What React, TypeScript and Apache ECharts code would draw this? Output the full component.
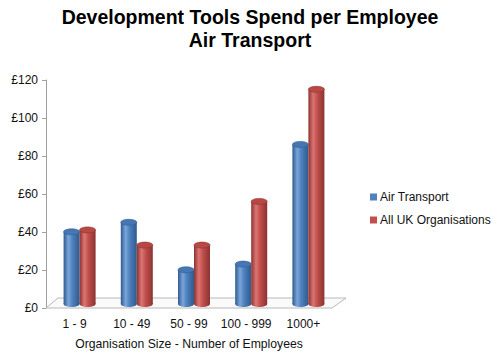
import React, { useEffect, useRef } from "react";
import * as echarts from "echarts";

const categories = ["1 - 9", "10 - 49", "50 - 99", "100 - 999", "1000+"];
const airTransport = [38, 43, 18, 21, 84];
const allUK = [39, 31, 31, 54, 113];
const seriesNames = ["Air Transport", "All UK Organisations"];
const yTicks = [0, 20, 40, 60, 80, 100, 120];

const BAR_W = 16;
const DEPTH_X = 5;
const DEPTH_Y = 4;

const palettes = [
  { base: "#4F81BD", dark: "#2D5A8F", light: "#7AA5DA", top: "#4677B3", topStroke: "#2F5F95" },
  { base: "#C0504D", dark: "#8C3230", light: "#DD7572", top: "#B84845", topStroke: "#8E3431" },
];

function makeCylinder(sIdx: number) {
  return (params: any, api: any) => {
    const idx = api.value(0);
    const val = api.value(1);
    const top = api.coord([idx, val]);
    const base = api.coord([idx, 0]);
    const p = palettes[sIdx];
    const cx = top[0] + (sIdx === 0 ? -BAR_W / 2 : BAR_W / 2) + DEPTH_X;
    const yTop = top[1] - DEPTH_Y;
    const yBase = base[1] - DEPTH_Y;
    const rx = BAR_W / 2;
    const ry = 3;
    const grad = new echarts.graphic.LinearGradient(0, 0, 1, 0, [
      { offset: 0, color: p.dark },
      { offset: 0.3, color: p.light },
      { offset: 0.55, color: p.base },
      { offset: 1, color: p.dark },
    ]);
    return {
      type: "group",
      children: [
        {
          type: "ellipse",
          shape: { cx, cy: yBase, rx, ry },
          style: { fill: grad },
        },
        {
          type: "rect",
          shape: { x: cx - rx, y: yTop, width: BAR_W, height: yBase - yTop },
          style: { fill: grad },
        },
        {
          type: "ellipse",
          shape: { cx, cy: yTop, rx, ry },
          style: { fill: p.top, stroke: p.topStroke, lineWidth: 0.6 },
        },
      ],
    };
  };
}

function renderFloor(params: any, api: any) {
  const cs = params.coordSys;
  const x0 = cs.x;
  const x1 = cs.x + cs.width;
  const yF = cs.y + cs.height;
  const dx = 14;
  const dy = 10;
  return {
    type: "polygon",
    shape: {
      points: [
        [x0, yF],
        [x1, yF],
        [x1 + dx, yF - dy],
        [x0 + dx - 2, yF - dy],
      ],
    },
    style: { fill: "#FAFAFA", stroke: "#B8B8B8", lineWidth: 1 },
    silent: true,
  };
}

export default function App() {
  const ref = useRef<HTMLDivElement>(null);
  useEffect(() => {
    document.body.style.margin = "0";
    const chart = echarts.init(ref.current!, null, { renderer: "svg" });
    chart.setOption({
      animation: false,
      backgroundColor: "#ffffff",
      textStyle: { fontFamily: "Liberation Sans, Arial, sans-serif" },
      title: {
        text: "Development Tools Spend per Employee\nAir Transport",
        left: "center",
        top: 0,
        textStyle: {
          fontSize: 19.5,
          fontWeight: "bold",
          color: "#000000",
          lineHeight: 23,
          fontFamily: "Liberation Sans, Arial, sans-serif",
        },
      },
      legend: {
        orient: "vertical",
        left: 365,
        top: 186,
        icon: "rect",
        itemWidth: 7,
        itemHeight: 7,
        itemGap: 11,
        textStyle: { fontSize: 12, color: "#111111", padding: [0, 0, 0, -2] },
        data: seriesNames,
      },
      grid: { left: 46, top: 80, right: 168, bottom: 55, containLabel: false },
      xAxis: {
        type: "category",
        data: categories,
        name: "Organisation Size - Number of Employees",
        nameLocation: "middle",
        nameGap: 30,
        nameTextStyle: { fontSize: 12.2, color: "#111111" },
        axisLine: { show: false },
        axisTick: { show: false },
        axisLabel: { fontSize: 12, color: "#111111", margin: 10, interval: 0 },
      },
      yAxis: {
        type: "value",
        min: 0,
        max: 120,
        interval: 20,
        axisLine: { show: true, lineStyle: { color: "#A0A0A0" } },
        axisTick: { show: true, length: 4, lineStyle: { color: "#A0A0A0" } },
        splitLine: { show: false },
        axisLabel: {
          fontSize: 12,
          color: "#111111",
          margin: 8,
          formatter: (v: number) => (yTicks.includes(v) ? "£" + v : ""),
        },
      },
      series: [
        {
          type: "custom",
          name: "floor",
          renderItem: renderFloor,
          data: [[0, 0]],
          z: 1,
          silent: true,
        },
        {
          type: "custom",
          name: seriesNames[0],
          renderItem: makeCylinder(0),
          itemStyle: { color: palettes[0].base },
          data: airTransport.map((v, i) => [i, v]),
          encode: { x: 0, y: 1 },
          z: 2,
        },
        {
          type: "custom",
          name: seriesNames[1],
          renderItem: makeCylinder(1),
          itemStyle: { color: palettes[1].base },
          data: allUK.map((v, i) => [i, v]),
          encode: { x: 0, y: 1 },
          z: 3,
        },
      ],
    });
    return () => chart.dispose();
  }, []);
  return <div ref={ref} style={{ width: 500, height: 363 }} />;
}
